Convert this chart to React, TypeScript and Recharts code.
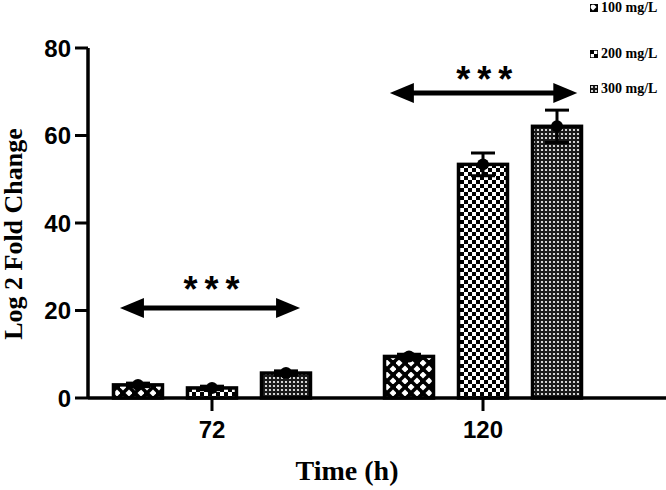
import { BarChart, Bar, XAxis, YAxis, ErrorBar, ReferenceLine, ReferenceDot, Label, Legend } from 'recharts';

document.body.style.margin = '0';

// time points (h)
const times = [72, 120];
// mean log2 fold change per dose
const mean100 = [3.0, 9.5];
const mean200 = [2.3, 53.4];
const mean300 = [5.7, 62.1];
// error (SD)
const err100 = [0.4, 0.5];
const err200 = [0.4, 2.6];
const err300 = [0.5, 3.7];

const yTicks = [0, 20, 40, 60, 80];
const doses = ['100 mg/L', '200 mg/L', '300 mg/L'];
const patternIds = ['p100', 'p200', 'p300'];

// significance arrows: [x start, x end, y]
const arrows = [
  { x1: 55.7, x2: 87.6, y: 20.6 },
  { x1: 103.5, x2: 136.7, y: 69.7 },
];
const stars = [
  { x: 72, y: 26.3 },
  { x: 120.3, y: 74.3 },
];

const data = times.map((t, i) => ({
  time: t,
  m100: mean100[i],
  m200: mean200[i],
  m300: mean300[i],
  e100: err100[i],
  e200: err200[i],
  e300: err300[i],
}));

const serif = '"Liberation Serif", "Times New Roman", serif';
const sans = '"Liberation Sans", Arial, sans-serif';

const PatternBar = (props: any) => {
  const { x, y, width, height, fill } = props;
  return (
    <g>
      <rect x={x} y={y} width={width} height={height} fill={fill} stroke="#000" strokeWidth={3.5} />
      <circle cx={x + width / 2} cy={y} r={6} fill="#000" />
    </g>
  );
};

const DoubleArrow = (props: any) => {
  const { x1, x2, y1 } = props;
  const head = 24;
  const half = 10;
  return (
    <g>
      <line x1={x1 + head - 2} x2={x2 - head + 2} y1={y1} y2={y1} stroke="#000" strokeWidth={5} />
      <polygon points={`${x1},${y1} ${x1 + head},${y1 - half} ${x1 + head},${y1 + half}`} fill="#000" />
      <polygon points={`${x2},${y1} ${x2 - head},${y1 - half} ${x2 - head},${y1 + half}`} fill="#000" />
    </g>
  );
};

const Stars = (props: any) => (
  <text
    x={props.cx}
    y={props.cy + 19}
    textAnchor="middle"
    fontFamily={sans}
    fontWeight="bold"
    fontSize={36}
    letterSpacing={7}
    dx={3}
    fill="#000"
  >
    ***
  </text>
);

const YTitle = () => (
  <text
    x={13}
    y={234}
    transform="rotate(-90 13 234)"
    textAnchor="middle"
    dominantBaseline="central"
    fontFamily={serif}
    fontWeight="bold"
    fontSize={26}
    fill="#000"
  >
    Log 2 Fold Change
  </text>
);

const XTitle = () => (
  <text x={347} y={480} textAnchor="middle" fontFamily={serif} fontWeight="bold" fontSize={28} fill="#000">
    Time (h)
  </text>
);

const legendTops = [0, 46, 81];

const DoseLegend = () => (
  <div style={{ position: 'relative', width: 80, height: 100 }}>
    {doses.map((d, i) => (
      <div
        key={d}
        style={{
          position: 'absolute',
          top: legendTops[i],
          left: 0,
          display: 'flex',
          alignItems: 'center',
          fontFamily: serif,
          fontWeight: 'bold',
          fontSize: 14,
          lineHeight: '14px',
          color: '#000',
          whiteSpace: 'nowrap',
        }}
      >
        <svg width={8} height={8} style={{ marginRight: 3 }}>
          <rect x={0} y={0} width={8} height={8} fill={`url(#${patternIds[i]})`} stroke="#000" strokeWidth={1.5} />
        </svg>
        {d}
      </div>
    ))}
  </div>
);

export default function App() {
  return (
    <div style={{ width: 666, height: 490, background: '#fff', position: 'relative' }}>
      <BarChart
        width={666}
        height={490}
        data={data}
        margin={{ top: 48, right: 0, bottom: 0, left: 0 }}
        barSize={49}
        barGap={25}
      >
        <defs>
          <pattern id="p100" width={12} height={12} patternUnits="userSpaceOnUse">
            <rect width={12} height={12} fill="#000" />
            <polygon points="3,-0.5 6.5,3 3,6.5 -0.5,3" fill="#fff" />
            <polygon points="9,5.5 12.5,9 9,12.5 5.5,9" fill="#fff" />
          </pattern>
          <pattern id="p200" width={8} height={8} patternUnits="userSpaceOnUse">
            <rect width={8} height={8} fill="#fff" />
            <rect x={0} y={0} width={4} height={4} fill="#000" />
            <rect x={4} y={4} width={4} height={4} fill="#000" />
          </pattern>
          <pattern id="p300" width={4} height={4} patternUnits="userSpaceOnUse">
            <rect width={4} height={4} fill="#1a1a1a" />
            <circle cx={2} cy={2} r={1.1} fill="#fff" />
          </pattern>
        </defs>
        <XAxis
          type="number"
          dataKey="time"
          domain={[50.04, 152.41]}
          ticks={times}
          allowDataOverflow
          height={92}
          tickSize={13}
          tickMargin={10}
          axisLine={{ stroke: '#000', strokeWidth: 3.5 }}
          tickLine={{ stroke: '#000', strokeWidth: 3 }}
          tick={{ fill: '#000', fontFamily: sans, fontWeight: 'bold', fontSize: 24 }}
        >
          <Label content={XTitle} />
        </XAxis>
        <YAxis
          type="number"
          domain={[0, 80]}
          ticks={yTicks}
          width={88}
          tickSize={13}
          tickMargin={4}
          axisLine={{ stroke: '#000', strokeWidth: 3.5 }}
          tickLine={{ stroke: '#000', strokeWidth: 3 }}
          tick={{ fill: '#000', fontFamily: sans, fontWeight: 'bold', fontSize: 24 }}
        >
          <Label content={YTitle} />
        </YAxis>
        <Legend
          layout="horizontal"
          verticalAlign="middle"
          align="center"
          content={DoseLegend}
          wrapperStyle={{ position: 'absolute', top: 1, left: 590, width: 80, height: 100 }}
        />
        <Bar dataKey="m100" name={doses[0]} fill="url(#p100)" shape={PatternBar} isAnimationActive={false}>
          <ErrorBar dataKey="e100" width={12} strokeWidth={3} stroke="#000" />
        </Bar>
        <Bar dataKey="m200" name={doses[1]} fill="url(#p200)" shape={PatternBar} isAnimationActive={false}>
          <ErrorBar dataKey="e200" width={12} strokeWidth={3} stroke="#000" />
        </Bar>
        <Bar dataKey="m300" name={doses[2]} fill="url(#p300)" shape={PatternBar} isAnimationActive={false}>
          <ErrorBar dataKey="e300" width={12} strokeWidth={3} stroke="#000" />
        </Bar>
        {arrows.map((a, i) => (
          <ReferenceLine
            key={`a${i}`}
            segment={[
              { x: a.x1, y: a.y },
              { x: a.x2, y: a.y },
            ]}
            shape={DoubleArrow}
          />
        ))}
        {stars.map((s, i) => (
          <ReferenceDot key={`s${i}`} x={s.x} y={s.y} r={0} shape={Stars} />
        ))}
      </BarChart>
    </div>
  );
}
